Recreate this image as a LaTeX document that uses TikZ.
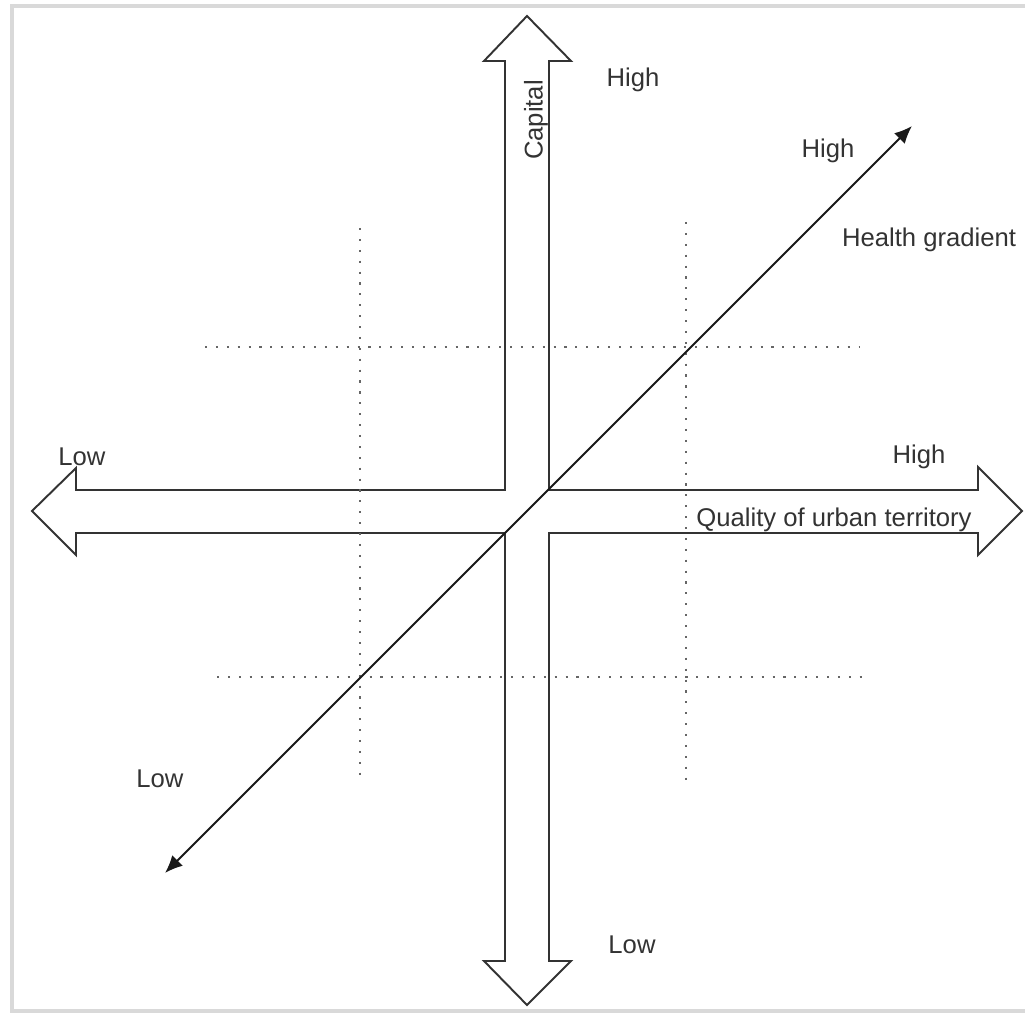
\documentclass[tikz,border=0pt]{standalone}
\usepackage{fontspec}
\setmainfont{Liberation Sans}
\usepackage{tikz}
\usetikzlibrary{arrows.meta}

\begin{document}
\begin{tikzpicture}[x=0.02cm, y=-0.02cm,
    axislabel/.style={font=\fontsize{14.6}{17}\selectfont, text=black!80, inner sep=0pt},
    gridline/.style={black!60, line width=1.2pt, dash pattern=on 1.2pt off 5pt},
    crossarrow/.style={black!80, line width=1.1pt, fill=white, line join=miter},
    gradient/.style={black!90, line width=1.1pt, {Latex[length=10pt,width=8.5pt]}-{Latex[length=10pt,width=8.5pt]}}]
  \useasboundingbox (0,0) rectangle (1025,1016);

  % ── Frame ──
  \draw[black!15, line width=2pt] (1025,6) -- (12,6) -- (12,1011) -- (1025,1011);

  % ── Four-way arrow ──
  \draw[crossarrow]
    (527,16) -- (571,61) -- (549,61) -- (549,490) -- (978,490) -- (978,467)
    -- (1022,511) -- (978,555) -- (978,533) -- (549,533) -- (549,961)
    -- (571,961) -- (527,1005) -- (484,961) -- (505,961) -- (505,533)
    -- (76,533) -- (76,555) -- (32,511) -- (76,468) -- (76,490) -- (505,490)
    -- (505,61) -- (484,61) -- cycle;

  % ── Dotted grid ──
  \foreach \x/\ya/\yb in {360/228/778, 686/222/785}{
    \draw[gridline] (\x,\ya) -- (\x,\yb);
  }
  \foreach \y/\xa/\xb in {347/205/860, 677/217/870}{
    \draw[gridline] (\xa,\y) -- (\xb,\y);
  }

  % ── Health gradient ──
  \coordinate (lowend)  at (165,873);
  \coordinate (highend) at (912,126);
  \draw[gradient] (lowend) -- (highend);

  % ── Labels ──
  \node[axislabel, rotate=90] (capital) at (536,120) {Capital};
  \node[axislabel] (caphigh)  at (633,80)  {High};
  \node[axislabel] (caplow)   at (632,945) {Low};
  \node[axislabel] (qualow)   at (82,457)  {Low};
  \node[axislabel] (quahigh)  at (919,457) {High};
  \node[axislabel] (quality)  at (834,520) {Quality of urban territory};
  \node[axislabel] (heahigh)  at (828,151) {High};
  \node[axislabel] (health)   at (929,240) {Health gradient};
  \node[axislabel] (healow)   at (160,779) {Low};
\end{tikzpicture}
\end{document}
